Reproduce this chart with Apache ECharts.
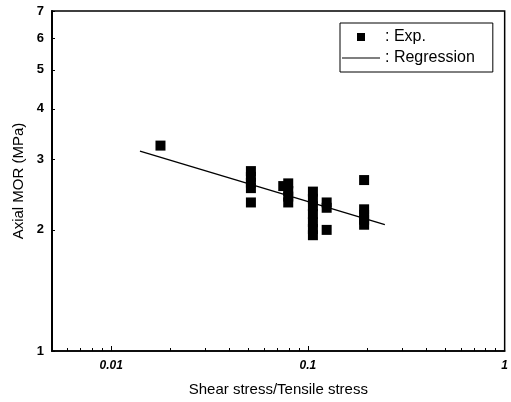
<!DOCTYPE html>
<html>
<head>
<meta charset="utf-8">
<script src="https://cdn.jsdelivr.net/npm/echarts@6/dist/echarts.min.js"></script>
<style>
  html, body { margin: 0; padding: 0; background: #fff; }
  #chart { width: 511px; height: 402px; }
</style>
</head>
<body>
<div id="chart"></div>
<script>
var expX = [0.0178,
  0.0513, 0.0513, 0.0513, 0.0513, 0.0513,
  0.0749, 0.0794, 0.0794, 0.0794, 0.0794,
  0.106, 0.106, 0.106, 0.106, 0.106, 0.106, 0.106,
  0.1245, 0.1245, 0.1245,
  0.193, 0.193, 0.193, 0.193, 0.193];
var expY = [3.24,
  2.80, 2.71, 2.62, 2.54, 2.34,
  2.57, 2.61, 2.50, 2.42, 2.34,
  2.49, 2.39, 2.29, 2.19, 2.09, 2.01, 1.94,
  2.34, 2.27, 2.00,
  2.66, 2.25, 2.18, 2.12, 2.06];
// regression line end points
var regX = [0.0140, 0.246];
var regY = [3.14, 2.06];

var xMajor = [0.01, 0.1, 1];
var xMajorLabels = ['0.01', '0.1', '1'];
var xMinor = [0.006, 0.007, 0.008, 0.009, 0.02, 0.03, 0.04, 0.05, 0.06, 0.07, 0.08, 0.09,
  0.2, 0.3, 0.4, 0.5, 0.6, 0.7, 0.8, 0.9];
var yTicks = [1, 2, 3, 4, 5, 6, 7];

var font = '"Liberation Sans", Arial, sans-serif';

function nearestLabel(v) {
  var best = 0;
  for (var i = 0; i < xMajor.length; i++) {
    if (Math.abs(Math.log10(v) - Math.log10(xMajor[i])) < Math.abs(Math.log10(v) - Math.log10(xMajor[best]))) best = i;
  }
  return xMajorLabels[best];
}

var chart = echarts.init(document.getElementById('chart'));
var option = {
  backgroundColor: '#fff',
  animation: false,
  grid: {
    left: 52, right: 2, top: 11, bottom: 51,
    show: true, borderColor: '#000', borderWidth: 1.5
  },
  legend: {
    left: 340, top: 23,
    orient: 'vertical',
    itemWidth: 38, itemHeight: 8, itemGap: 5,
    padding: [6, 18, 6, 2],
    borderColor: '#000', borderWidth: 1,
    backgroundColor: '#fff',
    formatter: ': {name}',
    textStyle: { fontFamily: font, fontSize: 16, color: '#000', lineHeight: 16 },
    data: [
      { name: 'Exp.', icon: 'path://M0,0H1V1H0Z' },
      { name: 'Regression', icon: 'path://M0,0H38V1H0Z' }
    ]
  },
  xAxis: [{
    type: 'log',
    min: 0.005, max: 1,
    name: 'Shear stress/Tensile stress',
    nameLocation: 'middle',
    nameGap: 31,
    nameTextStyle: { fontFamily: font, fontSize: 15, color: '#000', verticalAlign: 'top' },
    axisLine: { show: true, lineStyle: { color: '#000', width: 1.5 } },
    axisTick: { show: true, inside: true, length: 5, customValues: xMajor, lineStyle: { color: '#000' } },
    axisLabel: {
      customValues: xMajor,
      margin: 9,
      fontFamily: font, fontSize: 12, fontStyle: 'italic', fontWeight: 'bold', color: '#000',
      formatter: function (v) { return nearestLabel(v); }
    },
    splitLine: { show: false }
  }, {
    type: 'log',
    min: 0.005, max: 1,
    position: 'bottom',
    axisLine: { show: false },
    axisTick: { show: true, inside: true, length: 3, customValues: xMinor, lineStyle: { color: '#000' } },
    axisLabel: { show: false },
    splitLine: { show: false }
  }],
  yAxis: {
    type: 'log',
    min: 1, max: 7,
    name: 'Axial MOR (MPa)',
    nameLocation: 'middle',
    nameGap: 26,
    nameTextStyle: { fontFamily: font, fontSize: 15, color: '#000' },
    axisLine: { show: true, lineStyle: { color: '#000', width: 2 } },
    axisTick: { show: true, inside: true, length: 3, customValues: yTicks, lineStyle: { color: '#000' } },
    axisLabel: {
      customValues: yTicks,
      margin: 8,
      fontFamily: font, fontSize: 13, fontWeight: 'bold', color: '#000',
      formatter: function (v) { return String(Math.round(v)); }
    },
    splitLine: { show: false }
  },
  series: [{
    name: 'Regression',
    type: 'line',
    symbol: 'none',
    lineStyle: { color: '#000', width: 1.3 },
    itemStyle: { color: '#000' },
    data: regX.map(function (x, i) { return [x, regY[i]]; }),
    z: 2
  }, {
    name: 'Exp.',
    type: 'scatter',
    symbol: 'rect',
    symbolSize: 10,
    itemStyle: { color: '#000', opacity: 1 },
    data: expX.map(function (x, i) { return [x, expY[i]]; }),
    z: 3
  }]
};
chart.setOption(option);
</script>
</body>
</html>
